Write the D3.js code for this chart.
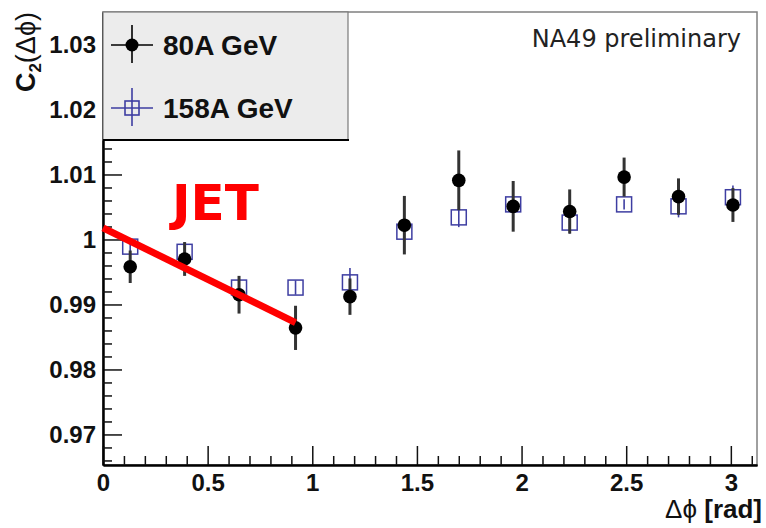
<!DOCTYPE html>
<html>
<head>
<meta charset="utf-8">
<script src="https://cdn.jsdelivr.net/npm/d3@7"></script>
<style>
  html, body { margin: 0; padding: 0; background: #fff; }
  svg { display: block; }
</style>
</head>
<body>
<svg id="chart" width="766" height="528"></svg>
<script>
// Δϕ bin centres (rad)
const binCenters = [0.13, 0.39, 0.65, 0.92, 1.18, 1.44, 1.70, 1.96, 2.23, 2.49, 2.75, 3.01];

// 80A GeV: C2 values and statistical errors
const c2_80 = [0.9958, 0.9970, 0.9915, 0.9864, 0.9912, 1.0022, 1.0091, 1.0051, 1.0043, 1.0096, 1.0066, 1.0053];
const err_80 = [0.0025, 0.0026, 0.0029, 0.0034, 0.0028, 0.0045, 0.0046, 0.0039, 0.0034, 0.0030, 0.0028, 0.0026];

// 158A GeV: C2 values and statistical errors
const c2_158 = [0.9989, 0.9981, 0.9926, 0.9926, 0.9934, 1.0012, 1.0034, 1.0054, 1.0026, 1.0054, 1.0051, 1.0065];
const err_158 = [0.0012, 0.0015, 0.0017, 0.0011, 0.0022, 0.0015, 0.0015, 0.0010, 0.0017, 0.0008, 0.0017, 0.0018];

// Axis ticks
const xMajorTicks = [0, 0.5, 1, 1.5, 2, 2.5, 3];
const xTickLabels = ["0", "0.5", "1", "1.5", "2", "2.5", "3"];
const xMinorTicks = [0.1,0.2,0.3,0.4,0.6,0.7,0.8,0.9,1.1,1.2,1.3,1.4,1.6,1.7,1.8,1.9,2.1,2.2,2.3,2.4,2.6,2.7,2.8,2.9,3.1];
const yMajorTicks = [0.97, 0.98, 0.99, 1.00, 1.01, 1.02, 1.03];
const yTickLabels = ["0.97", "0.98", "0.99", "1", "1.01", "1.02", "1.03"];
const yMinorTicks = [0.966,0.968,0.972,0.974,0.976,0.978,0.982,0.984,0.986,0.988,0.992,0.994,0.996,0.998,
                     1.002,1.004,1.006,1.008,1.012,1.014,1.016,1.018,1.022,1.024,1.026,1.028,1.032,1.034];

// Jet-like slope guide: endpoints in (Δϕ, C2)
const jetLineX = [0, 0.92];
const jetLineY = [1.0018, 0.9872];

const seriesNames = ["80A GeV", "158A GeV"];

const svg = d3.select("#chart");
const plotLeft = 103, plotRight = 757, plotTop = 12, plotBottom = 465;

const x = d3.scaleLinear().domain([0, 3.125]).range([plotLeft, plotRight]);
const y = d3.scaleLinear().domain([0.9653, 1.035]).range([plotBottom, plotTop]);

const blue = "#3e3ea2";

// Plot frame
svg.append("rect")
  .attr("x", plotLeft).attr("y", plotTop)
  .attr("width", plotRight - plotLeft).attr("height", plotBottom - plotTop)
  .attr("fill", "#fff").attr("stroke", "#808080").attr("stroke-width", 1.5);

// Axes (ticks pointing inwards)
const tickFont = "bold 24px 'Liberation Sans', Arial, sans-serif";

const xAxis = d3.axisBottom(x).tickValues(xMajorTicks)
  .tickFormat((d, i) => xTickLabels[i])
  .tickSizeInner(-19).tickSizeOuter(0).tickPadding(9);
svg.append("g").attr("transform", `translate(0,${plotBottom})`).call(xAxis);

const xMinor = d3.axisBottom(x).tickValues(xMinorTicks).tickFormat("")
  .tickSizeInner(-9).tickSizeOuter(0);
svg.append("g").attr("transform", `translate(0,${plotBottom})`).call(xMinor);

const yAxis = d3.axisLeft(y).tickValues(yMajorTicks)
  .tickFormat((d, i) => yTickLabels[i])
  .tickSizeInner(-19).tickSizeOuter(0).tickPadding(7);
svg.append("g").attr("transform", `translate(${plotLeft},0)`).call(yAxis);

const yMinor = d3.axisLeft(y).tickValues(yMinorTicks).tickFormat("")
  .tickSizeInner(-9).tickSizeOuter(0);
svg.append("g").attr("transform", `translate(${plotLeft},0)`).call(yMinor);

svg.selectAll(".domain").attr("stroke", "#000").attr("stroke-width", 2);
svg.selectAll(".tick line").attr("stroke", "#111").attr("stroke-width", 1.5);
svg.selectAll(".tick text").style("font", tickFont).attr("fill", "#111");

// 158A GeV: error bars and open squares
const g158 = svg.append("g");
g158.selectAll("line").data(binCenters).join("line")
  .attr("x1", d => x(d)).attr("x2", d => x(d))
  .attr("y1", (d, i) => y(c2_158[i] - err_158[i]))
  .attr("y2", (d, i) => y(c2_158[i] + err_158[i]))
  .attr("stroke", blue).attr("stroke-width", 1.6);
g158.selectAll("rect").data(binCenters).join("rect")
  .attr("x", d => x(d) - 7.5)
  .attr("y", (d, i) => y(c2_158[i]) - 7.5)
  .attr("width", 15).attr("height", 15)
  .attr("fill", "none").attr("stroke", blue).attr("stroke-width", 1.5);

// 80A GeV: error bars and filled circles
const g80 = svg.append("g");
g80.selectAll("line").data(binCenters).join("line")
  .attr("x1", d => x(d)).attr("x2", d => x(d))
  .attr("y1", (d, i) => y(c2_80[i] - err_80[i]))
  .attr("y2", (d, i) => y(c2_80[i] + err_80[i]))
  .attr("stroke", "#333").attr("stroke-width", 3);
g80.selectAll("circle").data(binCenters).join("circle")
  .attr("cx", d => x(d))
  .attr("cy", (d, i) => y(c2_80[i]))
  .attr("r", 6.8).attr("fill", "#000");

// Jet slope guide
svg.append("line")
  .attr("x1", x(jetLineX[0])).attr("y1", y(jetLineY[0]))
  .attr("x2", x(jetLineX[1])).attr("y2", y(jetLineY[1]))
  .attr("stroke", "#ff0000").attr("stroke-width", 7);

svg.append("text")
  .attr("x", 172).attr("y", 220)
  .style("font", "bold 50px 'DejaVu Sans', sans-serif")
  .attr("fill", "#ff0000")
  .text("JET");

// Legend box
const lg = svg.append("g");
lg.append("rect")
  .attr("x", plotLeft).attr("y", plotTop).attr("width", 245).attr("height", 128)
  .attr("fill", "#ececec").attr("stroke", "#7a7a7a").attr("stroke-width", 1.2);
lg.append("line")
  .attr("x1", plotLeft).attr("x2", plotLeft + 246).attr("y1", plotTop + 128).attr("y2", plotTop + 128)
  .attr("stroke", "#000").attr("stroke-width", 2.2);

const legendRows = [45, 108];
// 80A GeV marker
lg.append("line").attr("x1", 111).attr("x2", 153).attr("y1", legendRows[0]).attr("y2", legendRows[0])
  .attr("stroke", "#000").attr("stroke-width", 1.6);
lg.append("line").attr("x1", 132).attr("x2", 132).attr("y1", legendRows[0] - 20).attr("y2", legendRows[0] + 18)
  .attr("stroke", "#000").attr("stroke-width", 1.6);
lg.append("circle").attr("cx", 132).attr("cy", legendRows[0]).attr("r", 6.5).attr("fill", "#000");
// 158A GeV marker
lg.append("line").attr("x1", 111).attr("x2", 153).attr("y1", legendRows[1]).attr("y2", legendRows[1])
  .attr("stroke", blue).attr("stroke-width", 1.6);
lg.append("line").attr("x1", 132).attr("x2", 132).attr("y1", legendRows[1] - 20).attr("y2", legendRows[1] + 18)
  .attr("stroke", blue).attr("stroke-width", 1.6);
lg.append("rect").attr("x", 125).attr("y", legendRows[1] - 7).attr("width", 14).attr("height", 14)
  .attr("fill", "none").attr("stroke", blue).attr("stroke-width", 1.6);

lg.selectAll("text.lab").data(seriesNames).join("text")
  .attr("class", "lab")
  .attr("x", 163).attr("y", (d, i) => legendRows[i] + 10)
  .style("font", "bold 28px 'Liberation Sans', Arial, sans-serif")
  .attr("fill", "#111")
  .text(d => d);

// Experiment tag
svg.append("text")
  .attr("x", 741).attr("y", 47)
  .attr("text-anchor", "end")
  .style("font", "24px 'DejaVu Sans', sans-serif")
  .attr("fill", "#222")
  .text("NA49 preliminary");

// Axis titles
const xt = svg.append("text")
  .attr("x", 762).attr("y", 518)
  .attr("text-anchor", "end")
  .style("font", "bold 26px 'Liberation Sans', Arial, sans-serif")
  .attr("fill", "#111");
xt.append("tspan").style("font-weight", "normal").text("Δϕ ");
xt.append("tspan").text("[rad]");

const yt = svg.append("text")
  .attr("transform", "translate(35,12) rotate(-90)")
  .attr("text-anchor", "end")
  .style("font", "bold 27px 'Liberation Sans', Arial, sans-serif")
  .attr("fill", "#111");
yt.append("tspan").text("C");
yt.append("tspan").attr("dy", 6).style("font-size", "17px").text("2");
yt.append("tspan").attr("dy", -6).style("font-weight", "normal").text("(Δϕ)");
</script>
</body>
</html>
